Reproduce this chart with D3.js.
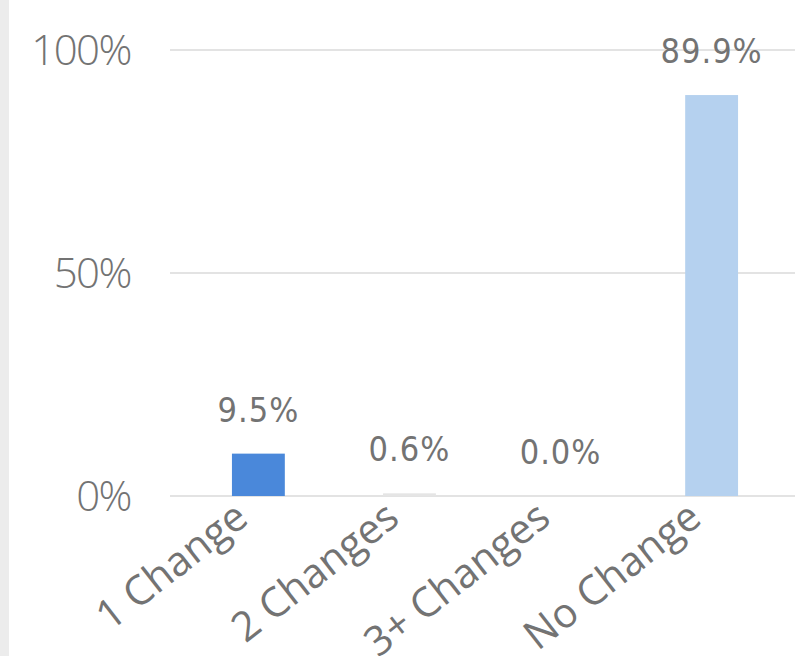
<!DOCTYPE html>
<html><head><meta charset="utf-8">
<script src="https://cdn.jsdelivr.net/npm/d3@7"></script>
<style>
html,body{margin:0;padding:0;background:#fff;}
svg{display:block;}
</style></head>
<body>
<svg id="chart" width="795" height="656"></svg>
<script>
const categories = ["1 Change", "2 Changes", "3+ Changes", "No Change"];
const values = [9.5, 0.6, 0.0, 89.9];
const valueLabels = ["9.5%", "0.6%", "0.0%", "89.9%"];
const barColors = ["#4a88da", "#e5e5e5", "#e5e5e5", "#b5d1ef"];
const yTicks = [0, 50, 100];
const yTickLabels = ["0%", "50%", "100%"];

const svg = d3.select("#chart");
const W = 795, H = 656;

svg.append("rect").attr("x", 0).attr("y", 0).attr("width", 9).attr("height", H).attr("fill", "#ececec");

const x = d3.scaleBand().domain(categories).range([170, 800]).paddingInner(0.65).paddingOuter(0.41);
const y = d3.scaleLinear().domain([0, 100]).range([496, 50]);

// gridlines
svg.append("g").selectAll("line").data(yTicks).join("line")
  .attr("x1", 170).attr("x2", W)
  .attr("y1", d => y(d)).attr("y2", d => y(d))
  .attr("stroke", "#e3e3e3").attr("stroke-width", 2);

// y tick labels
svg.append("g").selectAll("text").data(yTicks).join("text")
  .attr("x", 131).attr("y", d => y(d))
  .attr("dy", "0.36em")
  .attr("text-anchor", "end")
  .attr("font-family", "'Open Sans', 'Noto Sans', sans-serif")
  .attr("font-weight", 300)
  .attr("font-size", 42)
  .attr("letter-spacing", -1.5)
  .attr("fill", "#737373")
  .text((d, i) => yTickLabels[i]);

// bars
svg.append("g").selectAll("rect").data(values).join("rect")
  .attr("x", (d, i) => x(categories[i]))
  .attr("width", x.bandwidth())
  .attr("y", d => y(d))
  .attr("height", d => y(0) - y(d))
  .attr("fill", (d, i) => barColors[i]);

// value labels
svg.append("g").selectAll("text").data(values).join("text")
  .attr("x", (d, i) => x(categories[i]) + x.bandwidth() / 2)
  .attr("y", d => y(d) - 32)
  .attr("text-anchor", "middle")
  .attr("font-family", "'DejaVu Sans Condensed', 'Roboto Condensed', 'Liberation Sans Narrow', Roboto, sans-serif")
  .attr("font-stretch", "condensed")
  .attr("font-weight", 500)
  .attr("font-size", 34)
  .attr("letter-spacing", 1)
  .attr("fill", "#737373")
  .text((d, i) => valueLabels[i]);

// category labels
svg.append("g").selectAll("text").data(categories).join("text")
  .attr("transform", d => `translate(${x(d) + x.bandwidth() / 2 - 8},${522}) rotate(-38)`)
  .attr("text-anchor", "end")
  .attr("font-family", "'Open Sans', 'Noto Sans', sans-serif")
  .attr("font-weight", 400)
  .attr("font-size", 41)
  .attr("fill", "#737373")
  .text(d => d);
</script>
</body></html>
